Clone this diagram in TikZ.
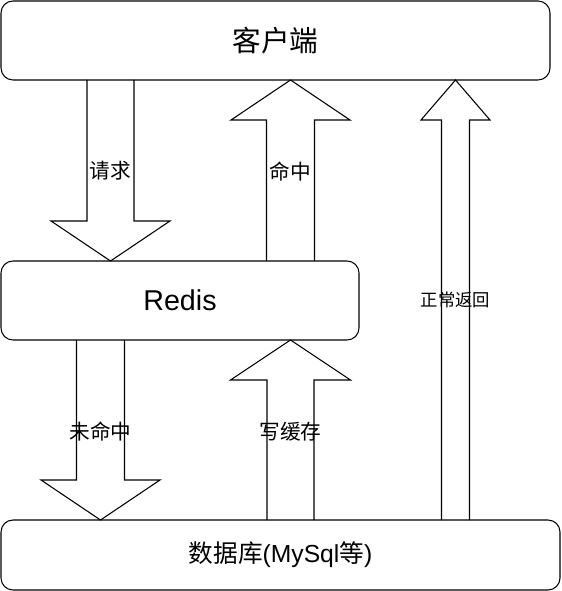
\documentclass[tikz,border=0pt]{standalone}
\usepackage{fontspec}
\setmainfont{Liberation Sans}
\newfontfamily\cjk{Noto Sans CJK SC}
\usetikzlibrary{calc}

\begin{document}
\begin{tikzpicture}[x=0.75pt, y=-0.75pt, line width=0.8pt,
  box/.style={draw, rounded corners=9pt, outer sep=0pt},
  lbl/.style={font=\cjk\fontsize{15.5}{18}\selectfont},
  block arrow/.style n args={3}{to path={
    ($(\tikztostart)+(-#1,0)$) -- ($(\tikztotarget)+(-#1,#3)$)
    -- ($(\tikztotarget)+(-#2,#3)$) -- (\tikztotarget)
    -- ($(\tikztotarget)+(#2,#3)$) -- ($(\tikztotarget)+(#1,#3)$)
    -- ($(\tikztostart)+(#1,0)$)}}]
\useasboundingbox (0,0) rectangle (561,591);

% boxes
\node[box, minimum width=411.75pt, minimum height=59.25pt,
  font=\cjk\fontsize{21.5}{25}\selectfont] (client) at (275.5,40.5) {客户端};
\node[box, minimum width=268.5pt, minimum height=59.25pt,
  font=\fontsize{21.5}{25}\selectfont] (redis) at (180,300.5) {Redis};
\node[box, minimum width=419.25pt, minimum height=52.5pt,
  font=\fontsize{18.5}{22}\selectfont] (db) at (280.5,555) {{\cjk 数据库}(MySql{\cjk 等})};

% labels
\node[lbl] (req) at (110.5,171) {请求};
\node[lbl] (hit) at (290.5,172) {命中};
\node[lbl] (miss) at (100.5,431.5) {未命中};
\node[lbl] (write) at (290.5,431.5) {写缓存};
\node[lbl, font=\cjk\fontsize{13}{16}\selectfont] (ret) at (455.5,300) {正常返回};

% block arrows
\draw[block arrow={23.5}{59.5}{-40}] (client.south -| req) to (redis.north -| req);
\draw[block arrow={24}{59.5}{40}] (redis.north -| hit) to (client.south -| hit);
\draw[block arrow={24}{59.5}{-40}] (redis.south -| miss) to (db.north -| miss);
\draw[block arrow={23.5}{60}{40}] (db.north -| write) to (redis.south -| write);
\draw[block arrow={14}{34.5}{40}] (db.north -| ret) to (client.south -| ret);
\end{tikzpicture}
\end{document}
